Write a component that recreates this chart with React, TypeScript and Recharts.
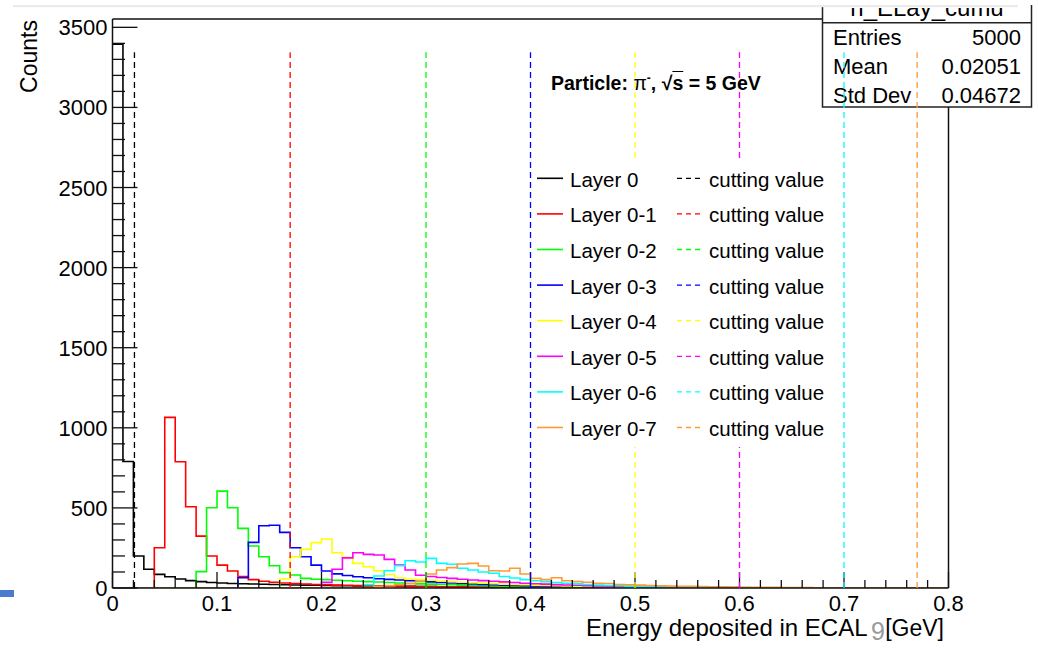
import React from 'react';
import { ComposedChart, Line, XAxis, YAxis, ReferenceLine } from 'recharts';

const FONT = "'Liberation Sans', Arial, Helvetica, sans-serif";

// Cumulative ECAL energy per layer group, 80 bins of 0.01 GeV from 0 to 0.8 GeV
const layer0 = [3395, 790, 200, 117, 85, 70, 56, 46, 40, 34, 31, 28, 27, 25, 23, 22, 20, 19, 18, 17, 16, 15, 14, 13, 12, 11, 11, 10, 10, 9, 9, 8, 8, 7, 7, 6, 6, 5, 5, 5, 4, 4, 4, 3, 3, 3, 3, 2, 2, 2, 2, 2, 2, 1, 1, 1, 1, 1, 1, 1, 1, 1, 0, 1, 0, 0, 1, 0, 0, 0, 0, 0, 0, 0, 0, 0, 0, 0, 0, 1];
const layer01 = [0, 0, 0, 0, 251, 1065, 788, 507, 324, 200, 143, 106, 71, 52, 42, 36, 31, 28, 25, 22, 20, 18, 17, 15, 14, 13, 12, 11, 10, 9, 9, 8, 8, 7, 7, 6, 6, 5, 5, 5, 4, 4, 4, 3, 3, 3, 3, 3, 2, 2, 2, 2, 2, 2, 2, 1, 1, 1, 1, 1, 1, 1, 1, 1, 1, 1, 0, 1, 0, 1, 0, 1, 0, 0, 1, 0, 0, 0, 0, 1];
const layer02 = [0, 0, 0, 0, 0, 0, 0, 0, 102, 501, 605, 501, 372, 262, 195, 139, 96, 81, 60, 55, 52, 48, 45, 42, 40, 37, 34, 31, 28, 26, 24, 22, 20, 18, 16, 15, 13, 12, 11, 10, 9, 8, 8, 7, 6, 6, 5, 5, 4, 4, 4, 3, 3, 3, 3, 2, 2, 2, 2, 2, 2, 1, 1, 1, 1, 1, 1, 1, 1, 1, 1, 1, 0, 1, 0, 1, 0, 0, 1, 0];
const layer03 = [0, 0, 0, 0, 0, 0, 0, 0, 0, 0, 0, 0, 64, 285, 389, 392, 347, 251, 195, 143, 106, 88, 78, 70, 64, 58, 54, 50, 46, 42, 38, 34, 31, 28, 25, 22, 20, 18, 16, 14, 13, 12, 11, 10, 9, 8, 7, 7, 6, 6, 5, 5, 4, 4, 4, 3, 3, 3, 3, 2, 2, 2, 2, 2, 1, 1, 1, 1, 1, 1, 1, 1, 1, 0, 1, 1, 0, 1, 0, 1];
const layer04 = [0, 0, 0, 0, 0, 0, 0, 0, 0, 0, 0, 0, 0, 0, 0, 0, 56, 195, 241, 283, 306, 220, 191, 154, 133, 108, 84, 62, 55, 52, 48, 44, 40, 36, 33, 30, 27, 24, 22, 20, 18, 16, 14, 13, 12, 10, 9, 8, 7, 6, 6, 5, 5, 4, 4, 3, 3, 3, 2, 2, 2, 2, 2, 1, 1, 1, 1, 1, 1, 1, 1, 0, 1, 1, 0, 1, 0, 0, 1, 0];
const layer05 = [0, 0, 0, 0, 0, 0, 0, 0, 0, 0, 0, 0, 0, 0, 0, 0, 0, 0, 0, 0, 35, 117, 188, 220, 210, 206, 179, 143, 112, 80, 72, 66, 60, 55, 50, 46, 42, 38, 34, 30, 27, 24, 21, 19, 17, 15, 13, 12, 10, 9, 8, 7, 6, 6, 5, 4, 4, 3, 3, 3, 2, 2, 2, 2, 2, 1, 1, 1, 1, 1, 1, 1, 1, 0, 1, 0, 1, 0, 1, 2];
const layer06 = [0, 0, 0, 0, 0, 0, 0, 0, 0, 0, 0, 0, 0, 0, 0, 0, 0, 0, 0, 0, 0, 0, 0, 0, 20, 75, 108, 139, 170, 162, 185, 154, 148, 123, 112, 100, 92, 72, 62, 52, 45, 40, 34, 30, 26, 22, 19, 16, 14, 12, 10, 9, 8, 7, 6, 5, 4, 4, 3, 3, 3, 2, 2, 2, 2, 1, 1, 1, 1, 1, 2, 1, 1, 0, 1, 0, 1, 0, 1, 0];
const layer07 = [0, 0, 0, 0, 0, 0, 0, 0, 0, 0, 0, 0, 0, 0, 0, 0, 0, 0, 0, 0, 0, 0, 0, 0, 5, 10, 15, 20, 28, 40, 87, 112, 127, 150, 154, 137, 108, 106, 123, 87, 60, 52, 64, 45, 40, 36, 30, 28, 22, 20, 18, 16, 14, 12, 11, 10, 9, 8, 7, 6, 5, 5, 4, 4, 3, 3, 3, 2, 2, 2, 2, 2, 1, 1, 1, 1, 1, 1, 1, 1];

const seriesNames = ['Layer 0', 'Layer 0-1', 'Layer 0-2', 'Layer 0-3', 'Layer 0-4', 'Layer 0-5', 'Layer 0-6', 'Layer 0-7'];
const seriesColors = ['#000000', '#ff0000', '#00ff00', '#0000ff', '#ffff00', '#ff00ff', '#00ffff', '#ff9933'];
const cutValues = [0.021, 0.17, 0.3, 0.4, 0.5, 0.6, 0.7, 0.77];
const cutTop = 3345;
const cutLabel = 'cutting value';

const yTicks = Array.from({ length: 36 }, (_, i) => i * 100);
const xTicks = Array.from({ length: 41 }, (_, i) => i / 50);

const statsTitle = 'h_ELay_cumu';
const statsLabels = ['Entries', 'Mean', 'Std Dev'];
const statsValues = ['5000', '0.02051', '0.04672'];

const X_MAX = 0.8;
const Y_MAX = 3552;
const NBINS = 80;

const allSeries = [layer0, layer01, layer02, layer03, layer04, layer05, layer06, layer07];
const keys = allSeries.map((_, i) => `h${i}`);

// one point per bin low edge, plus the upper edge of the last bin for the step path
const rows = Array.from({ length: NBINS + 1 }, (_, i) => {
  const row: Record<string, number> = { x: i / 100 };
  allSeries.forEach((s, k) => {
    row[keys[k]] = s[Math.min(i, NBINS - 1)];
  });
  return row;
});

const YTick = (props: any) => {
  const { x, y, payload } = props;
  const v = payload.value as number;
  const major = v % 500 === 0;
  return (
    <g>
      <line x1={x} x2={x + (major ? 25 : 12.5)} y1={y} y2={y} stroke="#111" strokeWidth={1.3} />
      {major && (
        <text x={x - 5} y={y + 8} textAnchor="end" fontSize={22} fontFamily={FONT} fill="#000">
          {v}
        </text>
      )}
    </g>
  );
};

const XTick = (props: any) => {
  const { x, y, payload } = props;
  const v = payload.value as number;
  const n = Math.round(v * 50);
  const major = n % 5 === 0;
  return (
    <g>
      <line x1={x} x2={x} y1={y} y2={y - (major ? 16 : 8)} stroke="#111" strokeWidth={1.3} />
      {major && (
        <text x={x} y={y + 22.5} textAnchor="middle" fontSize={22} fontFamily={FONT} fill="#000">
          {n === 0 ? '0' : v.toFixed(1)}
        </text>
      )}
    </g>
  );
};

const MARGIN = { top: 19, right: 89.5, bottom: 31, left: 52.5 };

const layer: React.CSSProperties = { position: 'absolute', left: 0, top: 0 };

export default function App() {
  const legendTop = 178.3;
  const legendStep = 35.6;
  return (
    <div style={{ position: 'absolute', left: 0, top: 0, width: 1038, height: 649, background: '#fff', overflow: 'hidden' }}>
      {/* histograms, axes and frame */}
      <div style={layer}>
        <ComposedChart width={1038} height={649} data={rows} margin={MARGIN}>
          <XAxis
            dataKey="x"
            type="number"
            domain={[0, X_MAX]}
            ticks={xTicks}
            interval={0}
            height={30}
            tickSize={0}
            tickMargin={0}
            tickLine={false}
            axisLine={{ stroke: '#111', strokeWidth: 1.5 }}
            tick={<XTick />}
            allowDataOverflow
          />
          <YAxis
            type="number"
            domain={[0, Y_MAX]}
            ticks={yTicks}
            interval={0}
            width={60}
            tickSize={0}
            tickMargin={0}
            tickLine={false}
            axisLine={{ stroke: '#111', strokeWidth: 1.5 }}
            tick={<YTick />}
            allowDataOverflow
          />
          <ReferenceLine y={Y_MAX} stroke="#111" strokeWidth={1.5} />
          <ReferenceLine x={X_MAX} stroke="#111" strokeWidth={1.5} />
          {keys.map((k, i) => (
            <Line
              key={k}
              dataKey={k}
              type="stepAfter"
              stroke={seriesColors[i]}
              strokeWidth={1.6}
              dot={false}
              activeDot={false}
              isAnimationActive={false}
            />
          ))}
        </ComposedChart>
      </div>

      {/* statistics box */}
      <svg style={layer} width={1038} height={649}>
        <defs>
          <clipPath id="statsTitleClip">
            <rect x={823} y={8} width={208} height={14} />
          </clipPath>
        </defs>
        <rect x={822.5} y={-2} width={209} height={109} fill="#fff" stroke="#222" strokeWidth={1.5} />
        <line x1={822.5} x2={1031.5} y1={22.7} y2={22.7} stroke="#222" strokeWidth={1.5} />
        <text x={927} y={15.5} textAnchor="middle" fontSize={24} fontFamily={FONT} clipPath="url(#statsTitleClip)">
          {statsTitle}
        </text>
        {statsLabels.map((lab, i) => (
          <g key={lab}>
            <text x={833} y={45 + i * 29} fontSize={22} fontFamily={FONT}>{lab}</text>
            <text x={1021} y={45 + i * 29} textAnchor="end" fontSize={22} fontFamily={FONT}>{statsValues[i]}</text>
          </g>
        ))}
      </svg>

      {/* cut values, drawn above the statistics box */}
      <div style={layer}>
        <ComposedChart width={1038} height={649} data={rows} margin={MARGIN}>
          <XAxis dataKey="x" type="number" domain={[0, X_MAX]} height={30} tick={false} axisLine={false} tickLine={false} allowDataOverflow />
          <YAxis type="number" domain={[0, Y_MAX]} width={60} tick={false} axisLine={false} tickLine={false} allowDataOverflow />
          <Line dataKey={keys[0]} stroke="none" dot={false} activeDot={false} isAnimationActive={false} />
          {cutValues.map((c, i) => (
            <ReferenceLine
              key={`cut${i}`}
              segment={[{ x: c, y: 0 }, { x: c, y: cutTop }]}
              stroke={seriesColors[i]}
              strokeWidth={1.3}
              strokeDasharray="6 4"
              ifOverflow="visible"
            />
          ))}
        </ComposedChart>
      </div>

      {/* legend, titles */}
      <svg style={layer} width={1038} height={649}>
        <rect x={0} y={0} width={1038} height={5} fill="#fff" />
        <rect x={13} y={5} width={1005} height={2.2} fill="#ebebeb" />
        <rect x={0} y={590} width={14} height={7} fill="#4a7bd0" />

        <rect x={532} y={160} width={300} height={287} fill="#fff" />
        {seriesNames.map((name, i) => {
          const cy = legendTop + i * legendStep;
          return (
            <g key={name}>
              <line x1={537} x2={563} y1={cy} y2={cy} stroke={seriesColors[i]} strokeWidth={1.6} />
              <text x={570} y={cy + 8.4} fontSize={20.5} fontFamily={FONT}>{name}</text>
              <line x1={677} x2={704} y1={cy} y2={cy} stroke={seriesColors[i]} strokeWidth={1.3} strokeDasharray="5 4" />
              <text x={709} y={cy + 8.4} fontSize={20.5} fontFamily={FONT}>{cutLabel}</text>
            </g>
          );
        })}

        <text x={37} y={20} transform="rotate(-90 37 20)" textAnchor="end" fontSize={23} fontFamily={FONT}>Counts</text>
        <text x={586} y={636} fontSize={24} fontFamily={FONT}>Energy deposited in ECAL</text>
        <text x={871} y={640} fontSize={25} fontFamily={FONT} fill="#9a9a9a">9</text>
        <text x={944} y={636} textAnchor="end" fontSize={23} fontFamily={FONT}>[GeV]</text>
      </svg>

      <div
        style={{
          position: 'absolute',
          left: 551,
          top: 73.5,
          fontFamily: FONT,
          fontWeight: 'bold',
          fontSize: 19.5,
          lineHeight: '19.5px',
          whiteSpace: 'nowrap',
          color: '#000',
        }}
      >
        Particle: <span style={{ fontWeight: 'normal' }}>π</span>
        <span style={{ fontSize: 12, position: 'relative', top: -8 }}>-</span>,{' '}
        √<span style={{ textDecoration: 'overline' }}>s</span> = 5 GeV
      </div>
    </div>
  );
}
